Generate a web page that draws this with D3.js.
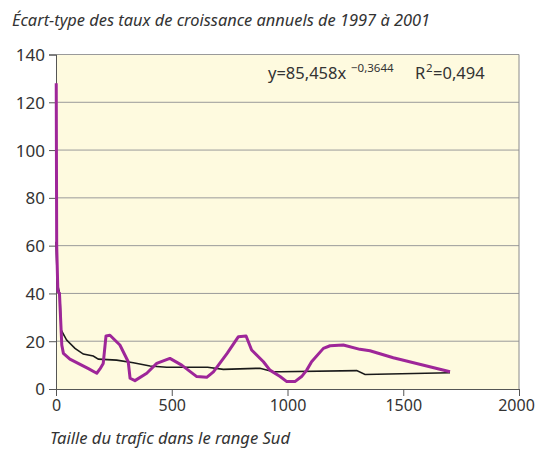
<!DOCTYPE html>
<html><head><meta charset="utf-8">
<script src="https://cdn.jsdelivr.net/npm/d3@7/dist/d3.min.js"></script>
<style>
body{margin:0;background:#fff;}
text{font-family:"Noto Sans",sans-serif;fill:#333;}
</style></head>
<body>
<svg id="c" width="536" height="453"></svg>
<script>
const title = "Écart-type des taux de croissance annuels de 1997 à 2001";
const xLabel = "Taille du trafic dans le range Sud";
const xTicks = [0, 500, 1000, 1500, 2000];
const yTicks = [0, 20, 40, 60, 80, 100, 120, 140];

const observedX = [1, 3, 8, 15, 25, 32, 60, 100, 140, 176, 190, 204, 216, 233, 276, 312, 320, 341, 392, 435, 492, 543, 608, 651, 680, 740, 788, 821, 845, 896, 924, 968, 997, 1032, 1061, 1083, 1104, 1155, 1184, 1241, 1313, 1356, 1457, 1702];
const observedY = [128, 60, 41, 40, 18.4, 14.9, 12.5, 10.5, 8.5, 6.6, 8.4, 10.7, 22.2, 22.5, 18.4, 11.4, 4.5, 3.5, 6.6, 10.7, 12.8, 10, 5.2, 4.9, 7.2, 15, 21.9, 22.2, 16.3, 11.4, 7.9, 5.2, 3.1, 3.1, 5.2, 7.9, 11.4, 17, 18.1, 18.4, 16.6, 16, 13.1, 7.2];

const fitX = [0, 6, 17, 22, 46, 82, 118, 161, 183, 262, 334, 406, 478, 655, 723, 881, 939, 968, 1299, 1335, 1702];
const fitY = [61.6, 44.2, 39.3, 24.7, 20.5, 17, 14.6, 13.8, 12.5, 12.1, 11, 9.6, 9.1, 9.1, 8.2, 8.7, 7.2, 7.2, 7.7, 6.1, 6.8];

const svg = d3.select("#c");
const L = 56, T = 54.5, R = 519, B = 389;
const x = d3.scaleLinear().domain([0, 2000]).range([L, R]);
const y = d3.scaleLinear().domain([0, 140]).range([B, T]);

svg.append("rect").attr("x", L).attr("y", T).attr("width", R - L).attr("height", B - T)
  .attr("fill", "#fefadf");

svg.append("g").selectAll("line").data(yTicks.filter(d => d > 0)).join("line")
  .attr("x1", L).attr("x2", R).attr("y1", d => y(d)).attr("y2", d => y(d))
  .attr("stroke", "#9a9a9a").attr("stroke-width", 1);
svg.append("line").attr("x1", R).attr("x2", R).attr("y1", T).attr("y2", B)
  .attr("stroke", "#8a8a8a").attr("stroke-width", 1);

const yAxis = d3.axisLeft(y).tickValues(yTicks).tickFormat(d3.format("d")).tickSize(7).tickPadding(4);
const gy = svg.append("g").attr("transform", `translate(${L},0)`).call(yAxis);
gy.selectAll("text").style("font-size", "17px").attr("fill", "#333").attr("dy", "0.35em");
gy.select(".domain").attr("stroke", "#555");
gy.selectAll(".tick line").attr("stroke", "#555");

const xAxis = d3.axisBottom(x).tickValues(xTicks).tickFormat(d3.format("d")).tickSize(7).tickPadding(4);
const gx = svg.append("g").attr("transform", `translate(0,${B})`).call(xAxis);
gx.selectAll("text").style("font-size", "16px").attr("fill", "#333")
  .attr("dx", d => d === 2000 ? -3 : 0);
gx.select(".domain").attr("stroke", "#555");
gx.selectAll(".tick line").attr("stroke", "#555");

const line = d3.line().x(d => x(d[0])).y(d => y(d[1]));
svg.append("path").datum(fitX.map((v, i) => [v, fitY[i]]))
  .attr("d", line).attr("fill", "none").attr("stroke", "#1a1a1a").attr("stroke-width", 1.6);
svg.append("path").datum(observedX.map((v, i) => [v, observedY[i]]))
  .attr("d", line).attr("fill", "none").attr("stroke", "#9e2699").attr("stroke-width", 3)
  .attr("stroke-linejoin", "round");

svg.append("text").attr("x", 12).attr("y", 26).style("font-size", "16.4px")
  .style("font-style", "italic").attr("fill", "#333").text(title);
svg.append("text").attr("x", 50).attr("y", 444).style("font-size", "16.6px")
  .style("font-style", "italic").attr("fill", "#333").text(xLabel);

const eq = svg.append("g").style("font-size", "16.5px");
eq.append("text").attr("x", 268).attr("y", 79).text("y=85,458x");
eq.append("text").attr("x", 351).attr("y", 72).style("font-size", "11.5px").text("\u22120,3644");
eq.append("text").attr("x", 415).attr("y", 79).text("R");
eq.append("text").attr("x", 426).attr("y", 72).style("font-size", "11.5px").text("2");
eq.append("text").attr("x", 433).attr("y", 79).text("=0,494");
</script>
</body></html>
